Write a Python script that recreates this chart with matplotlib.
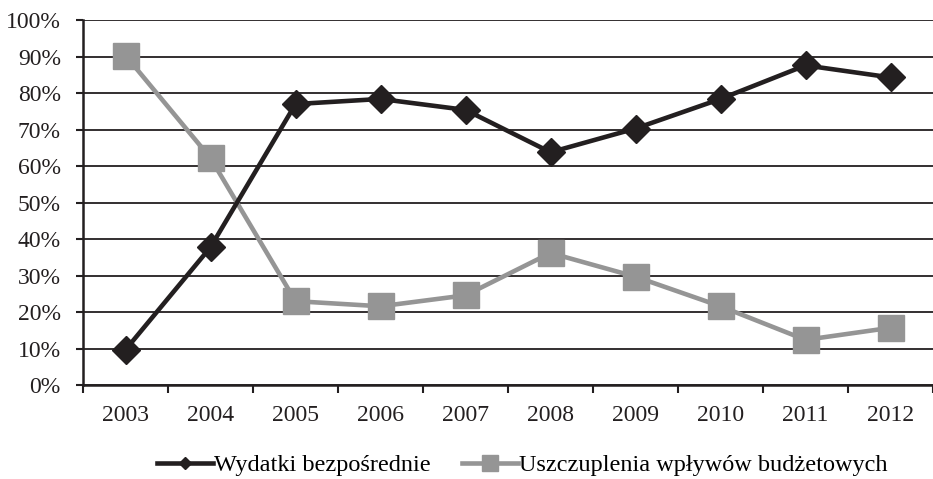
import matplotlib.pyplot as plt
import numpy as np

years = ['2003', '2004', '2005', '2006', '2007', '2008', '2009', '2010', '2011', '2012']
wydatki = [9.7, 37.8, 77.0, 78.4, 75.4, 63.8, 70.3, 78.4, 87.6, 84.3]
uszczuplenia = [90.3, 62.2, 23.0, 21.6, 24.6, 36.2, 29.7, 21.6, 12.4, 15.7]

plt.rcParams['font.family'] = ['Liberation Serif', 'DejaVu Serif']
black = '#231f20'
gray = '#959595'

fig = plt.figure(figsize=(9.33, 4.79), dpi=100)
ax = fig.add_axes([0.089, 0.196, 0.911, 0.762])

x = np.arange(len(years))
ax.plot(x, wydatki, color=black, lw=3.3, marker='D', ms=14,
        label='Wydatki bezpośrednie', zorder=4)
ax.plot(x, uszczuplenia, color=gray, lw=3.3, marker='s', ms=19,
        label='Uszczuplenia wpływów budżetowych', zorder=3)

ax.set_xlim(-0.5, len(years) - 0.5)
ax.set_ylim(0, 100)
ax.set_yticks(range(0, 101, 10))
ax.set_yticklabels([f'{v}%' for v in range(0, 101, 10)])
ax.yaxis.grid(True, color=black, lw=1.3)
ax.set_axisbelow(True)

ax.set_xticks(np.arange(len(years) + 1) - 0.5)
ax.set_xticklabels([])
ax.set_xticks(x, minor=True)
ax.set_xticklabels(years, minor=True)
ax.tick_params(axis='x', which='minor', length=0, pad=14)
ax.tick_params(axis='x', which='major', length=6, width=1.5, color=black)
ax.tick_params(axis='y', length=5, width=1.5, color=black, pad=11)
ax.tick_params(which='both', labelsize=17, labelcolor=black)

for s in ['top', 'right']:
    ax.spines[s].set_visible(False)
for s in ['left', 'bottom']:
    ax.spines[s].set_color(black)
    ax.spines[s].set_linewidth(1.8)

leg = fig.legend(loc='lower center', bbox_to_anchor=(0.56, -0.04), ncol=2, frameon=False,
                 fontsize=17.5, handlelength=2.3, handletextpad=0.05, columnspacing=1.3)
# legend markers are smaller than in the plot
leg.legend_handles[0].set_markersize(6)
leg.legend_handles[1].set_markersize(11)

fig.savefig('out.png', dpi=100)
